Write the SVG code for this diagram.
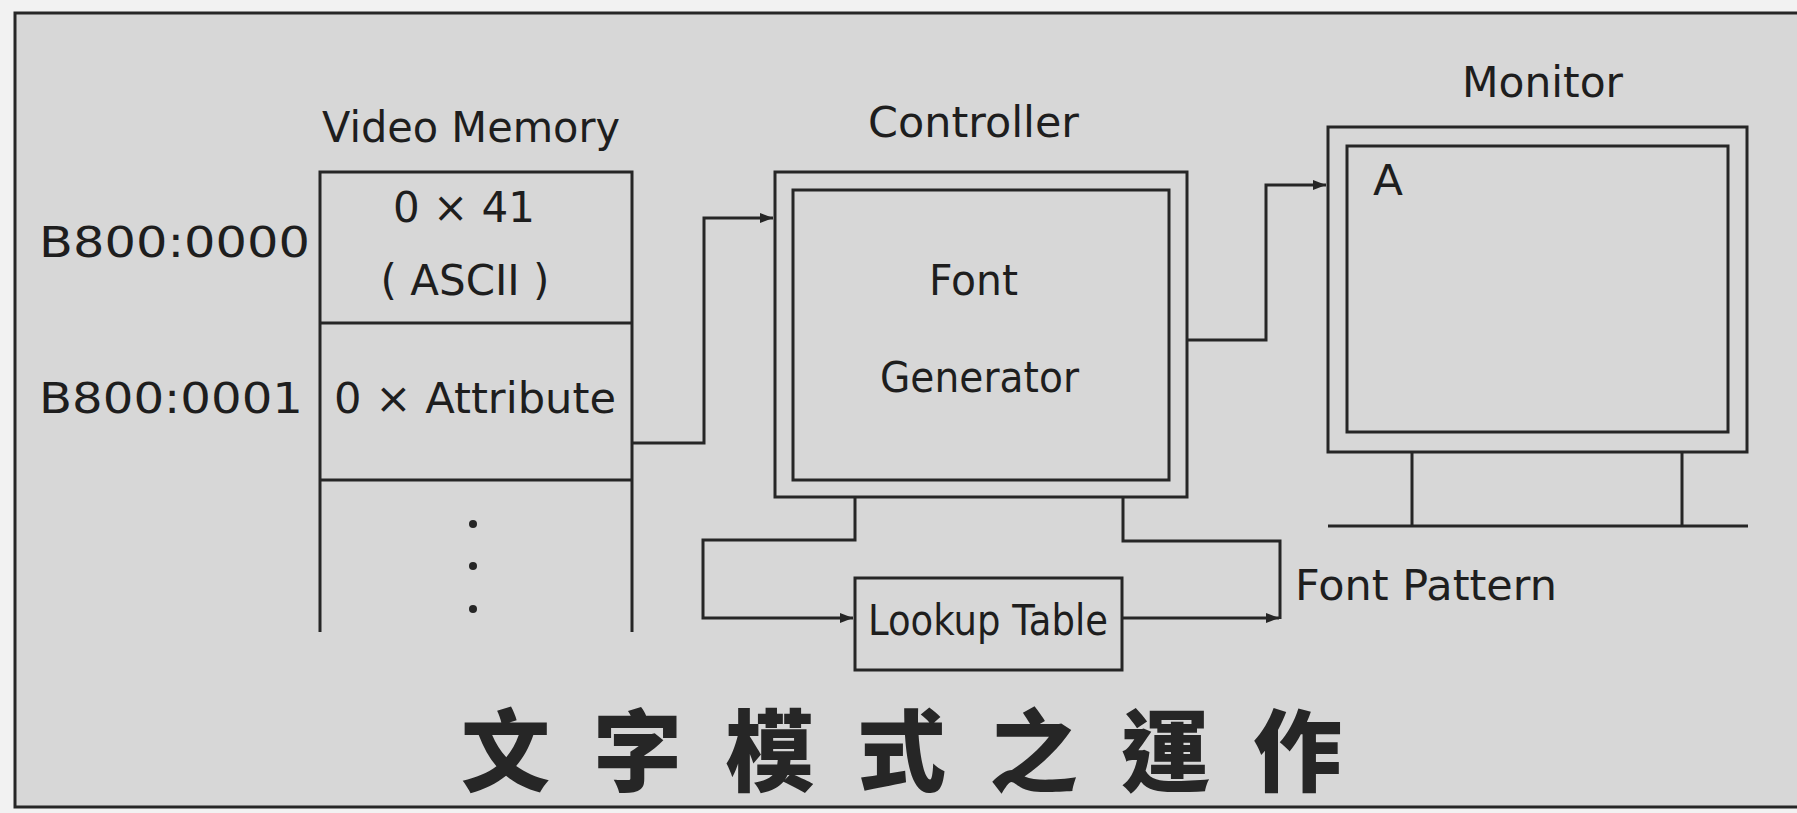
<svg xmlns="http://www.w3.org/2000/svg" width="1797" height="813" viewBox="0 0 1797 813">
<style>
.ln{fill:none;stroke:#262626;stroke-width:3}
.t{font-family:"DejaVu Sans","Liberation Sans",sans-serif;fill:#1e1e1e;font-size:42px}
.tt{font-family:"Noto Sans CJK TC","Noto Sans CJK SC",sans-serif;font-weight:900;fill:#262626;font-size:89px}
</style>
<defs>
<marker id="ah" markerUnits="userSpaceOnUse" markerWidth="14" markerHeight="10" refX="13" refY="5" orient="auto">
<path d="M0,0 L13,5 L0,10 z" fill="#262626"/>
</marker>
</defs>
<rect x="0" y="0" width="1797" height="813" fill="#f2f2f2"/>
<g id="frame">
<rect x="15" y="13" width="1790" height="794" fill="#d7d7d7"/>
<path class="ln" d="M1797,13 H15 V807 H1797"/>
</g>
<g id="video-memory">
<text class="t" x="322" y="142" font-size="44" textLength="298" lengthAdjust="spacingAndGlyphs">Video Memory</text>
<path class="ln" d="M320,632 V172 H632 V632 M320,323 H632 M320,480 H632"/>
<text class="t" x="464" y="222" text-anchor="middle">0 × 41</text>
<text class="t" x="465" y="295" text-anchor="middle">( ASCII )</text>
<text class="t" x="334" y="413" textLength="282" lengthAdjust="spacingAndGlyphs">0 × Attribute</text>
<circle cx="473" cy="524" r="4" fill="#262626"/>
<circle cx="473" cy="566" r="4" fill="#262626"/>
<circle cx="473" cy="609" r="4" fill="#262626"/>
</g>
<g id="addresses">
<text class="t" x="39" y="257" font-size="44" textLength="271" lengthAdjust="spacingAndGlyphs">B800:0000</text>
<text class="t" x="39" y="413" font-size="44" textLength="264" lengthAdjust="spacingAndGlyphs">B800:0001</text>
</g>
<g id="controller">
<text class="t" x="868" y="137" textLength="211" lengthAdjust="spacingAndGlyphs">Controller</text>
<rect class="ln" x="775" y="172" width="412" height="325"/>
<rect class="ln" x="793" y="190" width="376" height="290"/>
<text class="t" x="929" y="295" textLength="89" lengthAdjust="spacingAndGlyphs">Font</text>
<text class="t" x="880" y="392" textLength="199" lengthAdjust="spacingAndGlyphs">Generator</text>
</g>
<g id="monitor">
<text class="t" x="1462" y="97" textLength="161" lengthAdjust="spacingAndGlyphs">Monitor</text>
<rect class="ln" x="1328" y="127" width="419" height="325"/>
<rect class="ln" x="1347" y="146" width="381" height="286"/>
<text class="t" x="1373" y="195" textLength="30" lengthAdjust="spacingAndGlyphs">A</text>
<path class="ln" d="M1412,452 V526 M1682,452 V526 M1328,526 H1748"/>
</g>
<g id="lookup-table">
<rect class="ln" x="855" y="578" width="267" height="92"/>
<text class="t" x="868" y="635" font-size="40" textLength="240" lengthAdjust="spacingAndGlyphs">Lookup Table</text>
</g>
<g id="connectors">
<path class="ln" d="M632,443 H704 V218 H773" marker-end="url(#ah)"/>
<path class="ln" d="M1187,340 H1266 V185 H1326" marker-end="url(#ah)"/>
<path class="ln" d="M855,497 V540 H703 V618 H853" marker-end="url(#ah)"/>
<path class="ln" d="M1122,618 H1279" marker-end="url(#ah)"/>
<path class="ln" d="M1280,619 V541 H1123 V497"/>
<text class="t" x="1295" y="600" textLength="262" lengthAdjust="spacingAndGlyphs">Font Pattern</text>
</g>
<g id="title">
<text class="tt" x="461" y="784" letter-spacing="43">文字模式之運作</text>
</g>
</svg>
